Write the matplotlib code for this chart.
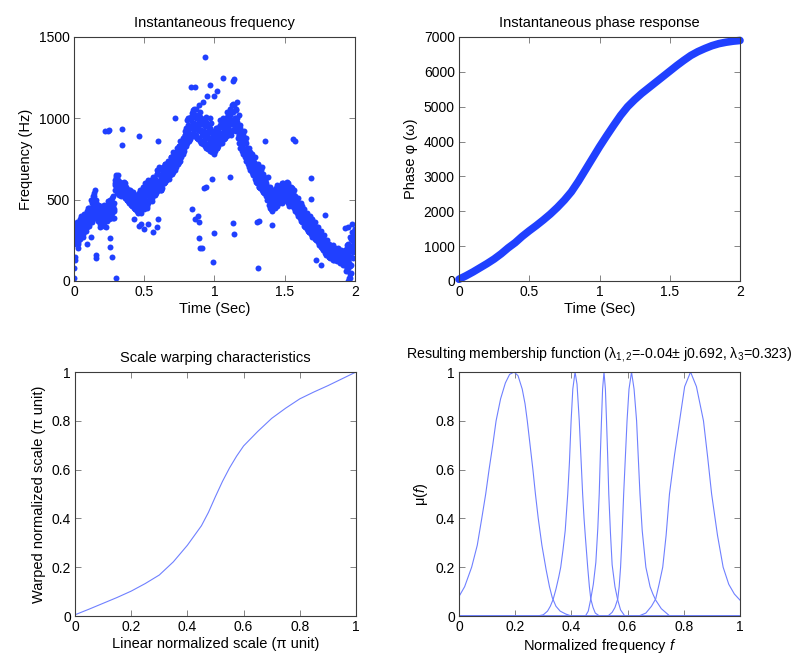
import numpy as np
import matplotlib.pyplot as plt

plt.rcParams['font.family'] = ['Liberation Sans', 'DejaVu Sans']
plt.rcParams['mathtext.fontset'] = 'custom'
plt.rcParams['mathtext.rm'] = 'Liberation Sans'
plt.rcParams['mathtext.it'] = 'Liberation Sans:italic'

BLUE = '#2040ff'
LIGHT = '#6f80ff'

#################################################################
# instantaneous frequency (Hz), several tracks

freq_a = [340, 310, 365, 330, 380, 400, 350, 410, 390, 430,
          420, 450, 440, 480, 520, 560, 500, 470, 440, 460,
          430, 470, 410, 450, 490, 470, 500, 460, 520, 600,
          640, 620, 600, 610, 590, 580, 600, 570, 560, 550,
          560, 540, 550, 520, 530, 510, 540, 560, 520, 580,
          560, 600, 580, 620, 590, 610, 640, 600, 630, 660,
          680, 650, 690, 670, 700, 720, 690, 710, 740, 720,
          760, 740, 780, 800, 790, 830, 820, 850, 870, 900,
          940, 960, 1000, 990, 1030, 1050, 1020, 1060, 1000, 980,
          1010, 970, 990, 950, 980, 960, 930, 940, 910, 920,
          900, 920, 940, 910, 950, 960, 940, 980, 990, 1010,
          1000, 1030, 1050, 1040, 1080, 1060, 1000, 960, 940, 910,
          900, 870, 860, 820, 800, 790, 760, 750, 730, 720,
          700, 690, 660, 680, 650, 640, 620, 600, 580, 560,
          540, 520, 550, 560, 570, 560, 580, 590, 570, 600,
          590, 600, 580, 570, 560, 570, 540, 520, 500, 490,
          470, 460, 440, 420, 410, 400, 380, 390, 370, 350,
          360, 340, 320, 330, 300, 290, 280, 270, 250, 240,
          230, 220, 210, 200, 190, 200, 190, 180, 190, 180,
          170, 180, 160, 190, 200, 230, 210, 260, 300, 280,
          320]

freq_b = [250, 270, 230, 290, 300, 280, 320, 310, 340, 330,
          350, 370, 360, 400, 420, 440, 410, 380, 360, 340,
          350, 360, 390, 380, 400, 420, 410, 390, 440, 560,
          560, 570, 550, 540, 530, 520, 510, 500, 490, 480,
          470, 460, 450, 440, 430, 440, 450, 420, 460, 470,
          470, 490, 480, 500, 520, 510, 530, 540, 550, 560,
          560, 580, 570, 600, 610, 620, 640, 630, 650, 660,
          670, 690, 700, 720, 730, 740, 760, 780, 800, 830,
          850, 870, 880, 900, 910, 890, 900, 880, 870, 860,
          850, 840, 860, 830, 820, 810, 800, 830, 790, 800,
          800, 820, 830, 850, 860, 850, 870, 880, 890, 900,
          910, 900, 920, 930, 940, 920, 880, 850, 820, 800,
          780, 760, 740, 720, 700, 680, 670, 650, 630, 610,
          600, 580, 570, 560, 550, 540, 520, 500, 470, 450,
          440, 450, 470, 480, 490, 500, 490, 510, 500, 510,
          500, 490, 480, 500, 470, 460, 450, 430, 420, 400,
          390, 370, 360, 340, 330, 320, 310, 300, 290, 280,
          270, 260, 250, 240, 220, 210, 200, 190, 170, 160,
          160, 150, 140, 150, 130, 140, 130, 120, 130, 110,
          120, 100, 130, 90, 70, 110, 40, 150, 180, 200]

freq_c = [300, 290, 320, 350, 330, 360, 340, 370, 380, 360,
          400, 390, 420, 460, 500, 480, 450, 420, 400, 390,
          400, 420, 440, 430, 460, 450, 470, 440, 480, 590,
          600, 590, 580, 570, 560, 550, 560, 540, 520, 530,
          510, 500, 490, 480, 500, 470, 490, 500, 490, 510,
          520, 540, 530, 550, 560, 570, 580, 560, 590, 600,
          610, 620, 630, 640, 650, 660, 670, 680, 690, 700,
          710, 720, 730, 760, 770, 780, 790, 820, 840, 860,
          880, 920, 940, 950, 960, 970, 950, 960, 930, 920,
          930, 900, 920, 890, 900, 880, 870, 860, 850, 860,
          850, 870, 880, 880, 900, 910, 900, 920, 930, 950,
          960, 970, 980, 990, 1000, 990, 950, 900, 870, 850,
          840, 810, 800, 780, 760, 740, 720, 700, 690, 670,
          650, 640, 620, 610, 600, 590, 570, 550, 530, 510,
          490, 480, 500, 510, 520, 530, 540, 550, 540, 550,
          550, 540, 530, 540, 520, 510, 490, 470, 460, 440,
          430, 420, 400, 380, 370, 360, 350, 340, 330, 310,
          310, 300, 290, 280, 260, 250, 240, 230, 210, 200,
          190, 180, 170, 170, 160, 170, 160, 150, 160, 150,
          140, 150, 130, 160, 120, 150, 90, 200, 250, 240]

freq_d = [260, 350, 240, 330, 300, 380, 270, 360, 310, 420,
          340, 430, 380, 520, 410, 470, 370, 450, 330, 420,
          360, 440, 330, 470, 380, 500, 420, 460, 390, 650,
          540, 610, 560, 520, 600, 540, 580, 500, 540, 490,
          530, 470, 500, 440, 520, 420, 490, 460, 540, 440,
          600, 460, 560, 500, 620, 490, 600, 530, 660, 560,
          700, 560, 650, 600, 720, 620, 680, 650, 760, 680,
          790, 680, 760, 720, 830, 760, 850, 790, 900, 840,
          990, 860, 950, 900, 1040, 930, 1000, 880, 960, 1040,
          860, 980, 900, 820, 950, 880, 1000, 820, 900, 780,
          940, 820, 880, 960, 850, 990, 880, 950, 1000, 900,
          1020, 920, 1080, 960, 1000, 1100, 930, 1020, 880, 850,
          920, 800, 850, 760, 820, 700, 780, 690, 760, 640,
          720, 580, 640, 700, 590, 620, 560, 640, 530, 580,
          470, 560, 450, 520, 590, 480, 560, 600, 520, 580,
          530, 610, 500, 580, 540, 470, 560, 490, 440, 510,
          420, 480, 380, 440, 350, 420, 330, 400, 310, 380,
          290, 360, 270, 330, 250, 310, 220, 280, 200, 250,
          170, 230, 150, 210, 160, 200, 140, 190, 130, 180,
          110, 170, 140, 190, 80, 180, 20, 250, 140, 320]

freq_e = [230, 320, 280, 350, 260, 330, 290, 400, 340, 380,
          450, 360, 500, 400, 540, 430, 380, 470, 350, 400,
          420, 340, 460, 370, 430, 480, 390, 510, 430, 620,
          580, 650, 530, 590, 550, 610, 520, 570, 500, 560,
          490, 550, 460, 530, 470, 510, 430, 550, 470, 520,
          500, 580, 450, 610, 520, 580, 550, 620, 540, 680,
          600, 690, 560, 700, 600, 690, 640, 740, 660, 760,
          700, 780, 720, 820, 750, 860, 800, 880, 820, 920,
          900, 1000, 870, 1010, 960, 1060, 900, 1020, 940, 880,
          1000, 860, 960, 880, 1010, 840, 920, 970, 830, 880,
          820, 900, 930, 860, 990, 900, 1000, 920, 960, 1040,
          930, 1060, 990, 1090, 940, 1050, 980, 900, 960, 830,
          860, 780, 880, 740, 790, 720, 740, 660, 700, 620,
          680, 620, 700, 600, 660, 560, 610, 520, 580, 480,
          520, 430, 490, 540, 460, 570, 520, 560, 480, 590,
          560, 500, 600, 460, 580, 500, 510, 460, 480, 430,
          450, 390, 460, 360, 410, 350, 390, 300, 350, 270,
          340, 280, 310, 260, 290, 230, 260, 210, 230, 180,
          210, 150, 190, 170, 220, 130, 180, 150, 200, 140,
          190, 120, 160, 60, 220, 130, 270, 100, 220, 300]

# stray points away from the main band
out_t = [0.0, 0.0, 0.005, 0.01, 0.03, 0.155, 0.16, 0.22, 0.24, 0.25,
         0.255, 0.255, 0.27, 0.30, 0.34, 0.345, 0.46, 0.43, 0.46, 0.48,
         0.50, 0.53, 0.56, 0.59, 0.60, 0.60, 0.72, 0.83, 0.84, 0.86,
         0.88, 0.89, 0.89, 0.90, 0.91, 0.925, 0.94, 0.93, 0.98, 0.99,
         0.995, 0.97, 1.0, 1.02, 1.06, 1.13, 1.14, 1.11, 1.13, 1.14,
         1.31, 1.30, 1.32, 1.36, 1.41, 1.56, 1.57, 1.685, 1.69, 1.76,
         1.93, 1.95, 1.98, 1.95, 1.96, 1.97, 0.89, 0.92, 0.95, 0.86,
         1.26, 1.79, 1.72, 0.09, 0.12]
out_f = [20, 80, 130, 150, 200, 160, 140, 920, 925, 930,
         262, 211, 150, 20, 935, 835, 890, 380, 340, 350,
         320, 350, 300, 330, 380, 860, 1000, 1190, 440, 380,
         400, 360, 265, 205, 205, 570, 580, 1380, 630, 115,
         295, 1205, 1140, 1170, 1250, 1230, 1240, 640, 356, 290,
         80, 365, 370, 860, 345, 870, 860, 633, 505, 100,
         326, 330, 350, 0, 20, 50, 1080, 1100, 1140, 1190,
         780, 405, 130, 230, 270]

# instantaneous phase, read every 0.05 s
phase_v = [50, 150, 260, 380, 500, 630, 780, 950, 1100, 1280,
           1440, 1590, 1750, 1920, 2110, 2320, 2560, 2860, 3190, 3520,
           3850, 4160, 4460, 4750, 5000, 5200, 5380, 5540, 5700, 5860,
           6020, 6180, 6330, 6470, 6580, 6670, 6750, 6810, 6850, 6880,
           6900]

# scale warping
warp_x = [0.0, 0.05, 0.10, 0.15, 0.20, 0.25, 0.30, 0.35, 0.40, 0.45,
          0.475, 0.50, 0.525, 0.55, 0.575, 0.60, 0.65, 0.70, 0.75, 0.80,
          0.85, 0.90, 0.95, 1.0]
warp_y = [0.005, 0.028, 0.052, 0.076, 0.102, 0.133, 0.168, 0.222, 0.29, 0.37,
          0.425, 0.49, 0.552, 0.607, 0.655, 0.697, 0.756, 0.81, 0.852, 0.89,
          0.918, 0.944, 0.972, 1.0]

# membership functions
mf1_x = [0.0, 0.02, 0.045, 0.065, 0.081, 0.095, 0.107, 0.12, 0.132, 0.148,
         0.165, 0.18, 0.196, 0.21, 0.225, 0.235, 0.243, 0.253, 0.263, 0.272,
         0.282, 0.295, 0.31, 0.322, 0.332, 0.345, 0.36, 0.38, 0.40, 1.0]
mf1_y = [0.08, 0.12, 0.2, 0.29, 0.4, 0.5, 0.6, 0.7, 0.8, 0.89,
         0.955, 0.99, 1.0, 0.985, 0.93, 0.87, 0.8, 0.7, 0.6, 0.5,
         0.4, 0.29, 0.19, 0.12, 0.075, 0.04, 0.02, 0.008, 0.0, 0.0]
mf2_x = [0.0, 0.28, 0.30, 0.315, 0.325, 0.335, 0.345, 0.355, 0.362, 0.37,
         0.378, 0.387, 0.393, 0.399, 0.405, 0.413, 0.42, 0.428, 0.434, 0.44,
         0.445, 0.45, 0.458, 0.464, 0.469, 0.477, 0.485, 0.5, 1.0]
mf2_y = [0.0, 0.0, 0.005, 0.02, 0.04, 0.068, 0.11, 0.16, 0.2, 0.27,
         0.35, 0.5, 0.63, 0.8, 0.93, 1.0, 0.95, 0.8, 0.65, 0.5,
         0.4, 0.32, 0.2, 0.12, 0.07, 0.035, 0.012, 0.0, 0.0]
mf3_x = [0.0, 0.45, 0.46, 0.469, 0.478, 0.487, 0.494, 0.499, 0.503, 0.507,
         0.511, 0.516, 0.521, 0.525, 0.529, 0.533, 0.539, 0.545, 0.555, 0.565,
         0.575, 0.59, 1.0]
mf3_y = [0.0, 0.0, 0.02, 0.07, 0.13, 0.22, 0.36, 0.5, 0.66, 0.8,
         0.93, 1.0, 0.93, 0.8, 0.66, 0.5, 0.34, 0.21, 0.12, 0.065,
         0.025, 0.0, 0.0]
mf4_x = [0.0, 0.53, 0.545, 0.555, 0.565, 0.57, 0.575, 0.58, 0.586, 0.592,
         0.598, 0.605, 0.614, 0.623, 0.632, 0.638, 0.644, 0.652, 0.665, 0.68,
         0.69, 0.70, 0.72, 0.75, 1.0]
mf4_y = [0.0, 0.0, 0.015, 0.035, 0.07, 0.12, 0.2, 0.32, 0.5, 0.65,
         0.8, 0.93, 1.0, 0.93, 0.8, 0.65, 0.5, 0.35, 0.2, 0.12,
         0.09, 0.065, 0.03, 0.0, 0.0]
mf5_x = [0.0, 0.64, 0.665, 0.685, 0.70, 0.712, 0.725, 0.737, 0.749, 0.767,
         0.785, 0.803, 0.824, 0.845, 0.87, 0.885, 0.899, 0.92, 0.94, 0.96,
         0.98, 1.0]
mf5_y = [0.0, 0.0, 0.012, 0.04, 0.07, 0.13, 0.2, 0.33, 0.5, 0.66,
         0.8, 0.94, 1.0, 0.94, 0.8, 0.65, 0.5, 0.33, 0.2, 0.13,
         0.09, 0.065]

#################################################################

def style(ax):
    ax.tick_params(direction='in', top=True, right=True, length=4,
                   width=0.6, color='#707070', labelsize=10, pad=3)
    for s in ax.spines.values():
        s.set_color('#3c3c3c')
        s.set_linewidth(0.8)

fig = plt.figure(figsize=(8.07, 6.6), dpi=100)
W, H = 281 / 807, 244 / 660
ax1 = fig.add_axes([74 / 807, 379 / 660, W, H])
ax2 = fig.add_axes([459 / 807, 379 / 660, W, H])
ax3 = fig.add_axes([75 / 807, 44 / 660, W, H])
ax4 = fig.add_axes([459 / 807, 44 / 660, W, H])

# top-left: instantaneous frequency
tracks = [(0.0, freq_a), (0.005, freq_b), (0.0035, freq_c),
          (0.0075, freq_d), (0.0025, freq_e)]
for off, ff in tracks:
    tt = np.arange(len(ff)) * 0.01 + off
    ax1.plot(tt, ff, 'o', color=BLUE, markersize=4.3, markeredgewidth=0)
ax1.plot(out_t, out_f, 'o', color=BLUE, markersize=4.3, markeredgewidth=0)
ax1.set_xlim(0, 2)
ax1.set_ylim(0, 1500)
ax1.set_xticks([0, 0.5, 1, 1.5, 2])
ax1.set_xticklabels(['0', '0.5', '1', '1.5', '2'])
ax1.set_yticks([0, 500, 1000, 1500])
ax1.set_title('Instantaneous frequency', fontsize=10.5, pad=7)
ax1.set_xlabel('Time (Sec)', fontsize=10.5, labelpad=2)
ax1.set_ylabel('Frequency (Hz)', fontsize=10.5)
style(ax1)

# top-right: phase
phase_t = np.arange(len(phase_v)) * 0.05
ax2.plot(phase_t, phase_v, color=BLUE, linewidth=5.5, solid_capstyle='round',
         solid_joinstyle='round', clip_on=False)
ax2.set_xlim(0, 2)
ax2.set_ylim(0, 7000)
ax2.set_xticks([0, 0.5, 1, 1.5, 2])
ax2.set_xticklabels(['0', '0.5', '1', '1.5', '2'])
ax2.set_yticks(range(0, 7001, 1000))
ax2.set_title('Instantaneous phase response', fontsize=10.5, pad=7)
ax2.set_xlabel('Time (Sec)', fontsize=10.5, labelpad=2)
ax2.set_ylabel('Phase φ (ω)', fontsize=10.5)
style(ax2)

# bottom-left: warping
ax3.plot(warp_x, warp_y, color=LIGHT, linewidth=0.8)
ax3.set_xlim(0, 1)
ax3.set_ylim(0, 1)
ticks = [0, 0.2, 0.4, 0.6, 0.8, 1]
labels = ['0', '0.2', '0.4', '0.6', '0.8', '1']
ax3.set_xticks(ticks)
ax3.set_xticklabels(labels)
ax3.set_yticks(ticks)
ax3.set_yticklabels(labels)
ax3.set_title('Scale warping characteristics', fontsize=10.5, pad=7)
ax3.set_xlabel('Linear normalized scale (π unit)', fontsize=10.5, labelpad=2)
ax3.set_ylabel('Warped normalized scale (π unit)', fontsize=10.5)
style(ax3)

# bottom-right: membership functions
for xx, yy in [(mf1_x, mf1_y), (mf2_x, mf2_y), (mf3_x, mf3_y),
               (mf4_x, mf4_y), (mf5_x, mf5_y)]:
    ax4.plot(xx, yy, color=LIGHT, linewidth=0.8)
ax4.set_xlim(0, 1)
ax4.set_ylim(0, 1)
ax4.set_xticks(ticks)
ax4.set_xticklabels(labels)
ax4.set_yticks(ticks)
ax4.set_yticklabels(labels)
ax4.set_title('Resulting membership function (λ$_{1,2}$=-0.04± j0.692, λ$_3$=0.323)',
              fontsize=10.2, pad=10)
ax4.set_xlabel('Normalized frequency $f$', fontsize=10.5, labelpad=2)
ax4.set_ylabel('μ($f$)', fontsize=10.5)
style(ax4)

fig.savefig('out.png', dpi=100)
